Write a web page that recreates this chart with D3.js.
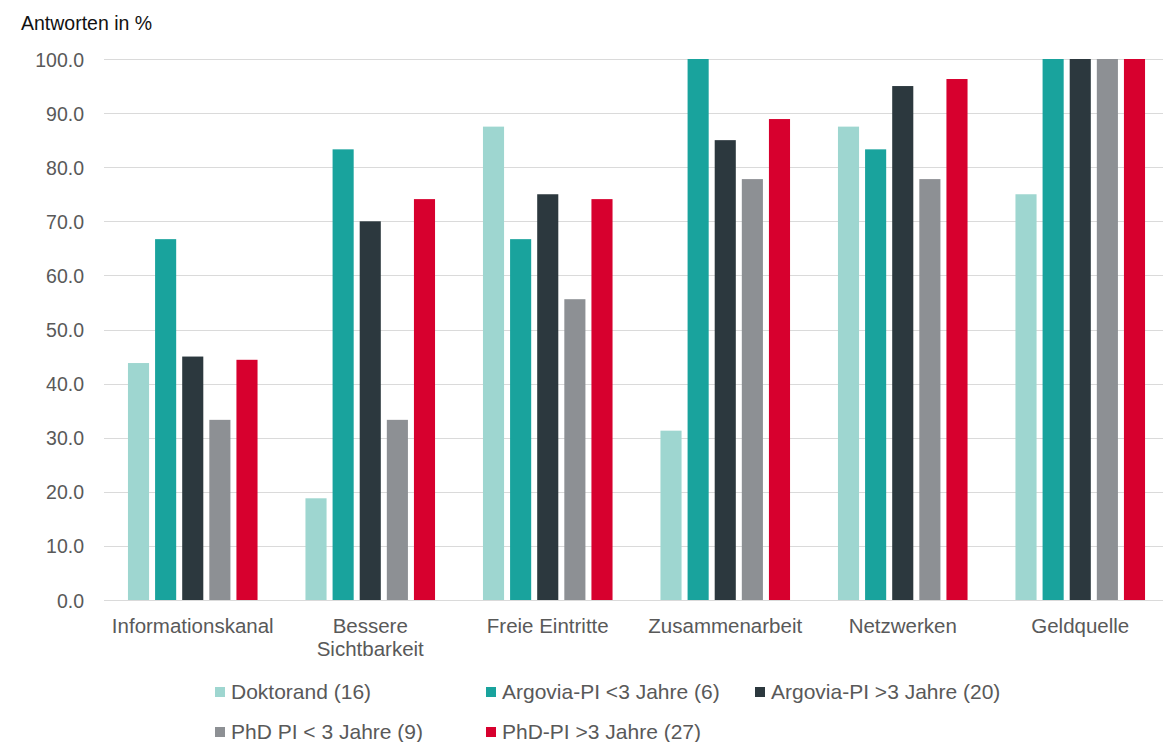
<!DOCTYPE html>
<html>
<head>
<meta charset="utf-8">
<script src="https://cdn.jsdelivr.net/npm/d3@7"></script>
<style>
  html, body { margin: 0; padding: 0; background: #fff; }
  svg { display: block; font-family: "Liberation Sans", Arial, Helvetica, sans-serif; }
</style>
</head>
<body>
<svg id="chart" width="1163" height="742"></svg>
<script>
// Categories (x axis)
const categories = ["Informationskanal", "Bessere\nSichtbarkeit", "Freie Eintritte", "Zusammenarbeit", "Netzwerken", "Geldquelle"];

// Series names (legend)
const seriesNames = ["Doktorand (16)", "Argovia-PI <3 Jahre (6)", "Argovia-PI >3 Jahre (20)", "PhD PI < 3 Jahre (9)", "PhD-PI >3 Jahre (27)"];
const seriesColors = ["#9ed6d0", "#19a39d", "#2c383e", "#8d9094", "#d7002e"];

// Values in % per series, one entry per category
const doktorand   = [43.8, 18.8, 87.5, 31.3, 87.5, 75.0];
const argoviaLt3  = [66.7, 83.3, 66.7, 100.0, 83.3, 100.0];
const argoviaGt3  = [45.0, 70.0, 75.0, 85.0, 95.0, 100.0];
const phdLt3      = [33.3, 33.3, 55.6, 77.8, 77.8, 100.0];
const phdGt3      = [44.4, 74.1, 74.1, 88.9, 96.3, 100.0];
const seriesValues = [doktorand, argoviaLt3, argoviaGt3, phdLt3, phdGt3];

// Y axis ticks
const yTicks = [0, 10, 20, 30, 40, 50, 60, 70, 80, 90, 100];

const svg = d3.select("#chart");
const plot = { left: 104, right: 1169, top: 59, bottom: 600 };

const y = d3.scaleLinear().domain([0, 100]).range([plot.bottom, plot.top]);
const x0 = d3.scaleBand().domain(categories).range([plot.left, plot.right])
  .paddingInner(0.27).paddingOuter(0.135);
const x1 = d3.scaleBand().domain(d3.range(seriesNames.length)).range([0, x0.bandwidth()])
  .paddingInner(0.222).paddingOuter(0);

// Gridlines
svg.append("g")
  .selectAll("line")
  .data(yTicks)
  .join("line")
  .attr("x1", plot.left)
  .attr("x2", 1163)
  .attr("y1", d => Math.round(y(d)) + 0.5)
  .attr("y2", d => Math.round(y(d)) + 0.5)
  .attr("stroke", "#dadada")
  .attr("stroke-width", 1.2);

// Y axis labels
const yAxis = d3.axisLeft(y).tickValues(yTicks).tickFormat(d3.format(".1f")).tickSize(0).tickPadding(0);
const yG = svg.append("g").attr("transform", `translate(84,0)`).call(yAxis);
yG.select(".domain").remove();
yG.selectAll("text")
  .attr("fill", "#595959")
  .style("font-size", "19.5px")
  .attr("dy", "0.36em");

// Axis title
svg.append("text")
  .attr("x", 21).attr("y", 30)
  .attr("fill", "#111")
  .style("font-size", "19.5px")
  .text("Antworten in %");

// Bars
const groups = svg.append("g")
  .selectAll("g")
  .data(categories)
  .join("g")
  .attr("transform", d => `translate(${x0(d)},0)`);

groups.selectAll("rect")
  .data((d, ci) => seriesValues.map((vals, si) => ({ si, v: vals[ci] })))
  .join("rect")
  .attr("x", d => x1(d.si))
  .attr("width", x1.bandwidth())
  .attr("y", d => y(d.v))
  .attr("height", d => y(0) - y(d.v))
  .attr("fill", d => seriesColors[d.si]);

// Category labels
const xAxis = svg.append("g");
categories.forEach(c => {
  const lines = c.split("\n");
  const cx = x0(c) + x0.bandwidth() / 2;
  const t = xAxis.append("text")
    .attr("x", cx)
    .attr("y", 633)
    .attr("text-anchor", "middle")
    .attr("fill", "#595959")
    .style("font-size", "20.5px");
  lines.forEach((ln, i) => {
    t.append("tspan")
      .attr("x", cx)
      .attr("dy", i === 0 ? 0 : 22.5)
      .text(ln);
  });
});

// Legend
const legendPos = [
  [215, 699], [486, 699], [755, 699],
  [215, 739], [486, 739]
];
const legend = svg.append("g");
seriesNames.forEach((name, i) => {
  const [lx, ly] = legendPos[i];
  legend.append("rect")
    .attr("x", lx).attr("y", ly - 12)
    .attr("width", 10).attr("height", 10)
    .attr("fill", seriesColors[i]);
  legend.append("text")
    .attr("x", lx + 16).attr("y", ly)
    .attr("fill", "#595959")
    .style("font-size", "21px")
    .text(name);
});
</script>
</body>
</html>
